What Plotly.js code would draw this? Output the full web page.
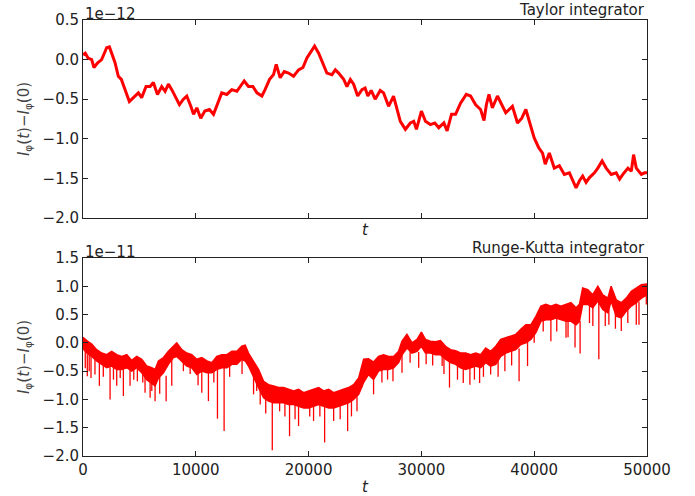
<!DOCTYPE html>
<html><head><meta charset="utf-8">
<script src="https://cdn.plot.ly/plotly-3.0.1.min.js"></script>
<style>html,body{margin:0;padding:0;background:#fff}#c{width:695px;height:496px}</style>
</head><body><div id="c"></div>
<script>
// Taylor integrator (units of 1e-12)
var topT = [0,200,450,770,970,1300,1650,2100,2340,2600,2840,3130,3400,3730,4110,4470,4910,5200,5590,5950,6240,6600,6980,7280,7570,7870,8170,8550,8900,9200,9560,9800,10090,10440,10800,11210,11570,11860,12300,12750,13190,13640,13930,14290,14670,15060,15420,15860,16140,16540,16890,17130,17480,17840,18220,18670,19110,19500,19850,20210,20530,20890,21180,21620,22070,22370,22660,23110,23400,23700,23990,24350,24730,25010,25250,25550,25900,26350,26650,27090,27530,27830,28130,28580,29020,29320,29560,30000,30360,30800,31190,31540,31990,32280,32670,33030,33470,33980,34360,34810,35250,35550,35760,35990,36290,36740,37120,37480,37780,38070,38520,38900,39260,39550,40000,40390,40740,40980,41340,41780,42230,42670,43120,43710,44010,44300,44600,44900,45340,45640,46020,46380,46830,47270,47570,47860,48310,48610,48810,49050,49500,49790,50000];
var topV = [0.06,0.08,0.02,0.00,-0.10,-0.04,0.00,0.15,0.16,0.04,-0.04,-0.21,-0.25,-0.38,-0.53,-0.48,-0.42,-0.48,-0.34,-0.34,-0.29,-0.44,-0.34,-0.40,-0.31,-0.38,-0.46,-0.57,-0.50,-0.46,-0.59,-0.69,-0.61,-0.74,-0.65,-0.63,-0.69,-0.59,-0.42,-0.44,-0.38,-0.40,-0.34,-0.27,-0.34,-0.34,-0.42,-0.46,-0.38,-0.25,-0.19,-0.06,-0.23,-0.15,-0.17,-0.21,-0.13,-0.10,0.02,0.10,0.17,0.08,-0.02,-0.17,-0.19,-0.13,-0.17,-0.25,-0.34,-0.25,-0.31,-0.46,-0.38,-0.36,-0.46,-0.39,-0.50,-0.39,-0.42,-0.59,-0.46,-0.61,-0.78,-0.88,-0.80,-0.78,-0.88,-0.65,-0.78,-0.82,-0.80,-0.86,-0.80,-0.90,-0.69,-0.69,-0.55,-0.44,-0.46,-0.57,-0.63,-0.77,-0.57,-0.44,-0.61,-0.46,-0.57,-0.67,-0.63,-0.59,-0.80,-0.74,-0.63,-0.78,-0.99,-1.11,-1.18,-1.32,-1.18,-1.37,-1.34,-1.45,-1.43,-1.62,-1.53,-1.47,-1.55,-1.49,-1.43,-1.37,-1.28,-1.37,-1.45,-1.43,-1.51,-1.45,-1.37,-1.41,-1.20,-1.37,-1.45,-1.43,-1.43];

// Runge-Kutta integrator (units of 1e-11): band of the dense noisy trace
var bandT = [0,330,770,1210,1660,2100,2540,2990,3430,3880,4320,4760,5210,5650,6090,6390,6690,7130,7570,8020,8310,8760,9200,9640,10090,10530,10980,11420,11860,12310,12750,13200,13640,14080,14380,14670,15120,15560,16010,16450,16890,17340,17780,18220,18670,19110,19560,20000,20440,20890,21330,21780,22220,22660,23110,23550,23990,24440,24880,25310,25760,26200,26650,27090,27540,27980,28280,28720,29170,29610,30000,30360,30800,31250,31690,32140,32580,33030,33470,33920,34360,34810,35250,35700,36140,36590,37030,37480,37920,38370,38810,39260,39700,40150,40590,41040,41480,41930,42370,42820,43260,43710,44010,44300,44750,45190,45640,46080,46530,46820,47270,47720,48160,48610,49050,49500,50000];
var bandHi = [0.10,0.04,-0.02,-0.12,-0.18,-0.21,-0.15,-0.21,-0.24,-0.21,-0.31,-0.24,-0.29,-0.41,-0.44,-0.47,-0.32,-0.26,-0.15,-0.06,0.00,-0.12,-0.18,-0.21,-0.29,-0.26,-0.32,-0.35,-0.24,-0.21,-0.21,-0.15,-0.15,-0.06,-0.04,-0.18,-0.32,-0.47,-0.68,-0.74,-0.76,-0.79,-0.79,-0.82,-0.85,-0.82,-0.88,-0.85,-0.82,-0.79,-0.85,-0.82,-0.88,-0.85,-0.82,-0.79,-0.74,-0.62,-0.29,-0.28,-0.34,-0.24,-0.21,-0.24,-0.24,-0.15,0.03,0.15,0.00,0.06,0.19,0.06,0.03,0.02,0.04,-0.06,-0.12,-0.14,-0.18,-0.18,-0.21,-0.18,-0.21,-0.09,-0.15,-0.06,0.06,0.09,0.12,0.15,0.24,0.32,0.32,0.47,0.65,0.68,0.65,0.68,0.65,0.68,0.71,0.62,0.68,0.97,0.94,0.85,1.00,0.85,0.79,1.00,0.76,0.71,0.79,0.91,0.97,1.03,1.04];
var bandLo = [-0.10,-0.18,-0.24,-0.32,-0.38,-0.44,-0.41,-0.47,-0.47,-0.44,-0.50,-0.44,-0.53,-0.65,-0.71,-0.76,-0.62,-0.53,-0.38,-0.26,-0.24,-0.32,-0.41,-0.44,-0.56,-0.50,-0.53,-0.53,-0.47,-0.44,-0.44,-0.38,-0.38,-0.29,-0.32,-0.41,-0.59,-0.79,-0.97,-1.03,-1.06,-1.06,-1.06,-1.09,-1.09,-1.12,-1.15,-1.15,-1.12,-1.09,-1.12,-1.15,-1.15,-1.12,-1.09,-1.06,-1.00,-0.91,-0.70,-0.56,-0.65,-0.50,-0.47,-0.47,-0.44,-0.35,-0.21,-0.09,-0.18,-0.15,-0.06,-0.18,-0.18,-0.21,-0.21,-0.29,-0.35,-0.38,-0.44,-0.47,-0.44,-0.41,-0.44,-0.35,-0.41,-0.38,-0.24,-0.18,-0.15,-0.12,-0.03,0.00,0.06,0.18,0.38,0.41,0.41,0.44,0.41,0.38,0.38,0.32,0.38,0.68,0.68,0.62,0.74,0.59,0.53,0.74,0.47,0.44,0.56,0.65,0.71,0.79,0.85];
// large downward excursions (spikes): time, lowest value, value where spike leaves the band
var spikeT  = [380,710,1060,1450,2400,2990,3580,4170,4820,5500,5950,6390,7370,7870,10530,11120,11920,12510,15120,15710,16780,17430,18310,19110,20440,21420,22220,23460,24290,24720,25760,27480,28280,29760,30420,31840,32490,33710,34300,35160,36140,38660,39410,41480,42820,43620,44070,44900,45730,46620,47720,49050,49290,49940];
var spikeLo = [-0.59,-0.62,-0.56,-0.76,-1.00,-0.76,-0.94,-0.76,-0.68,-0.88,-0.97,-1.03,-1.03,-0.76,-0.88,-1.03,-1.34,-1.56,-0.91,-1.09,-1.90,-1.21,-1.65,-1.47,-1.38,-1.76,-1.38,-1.56,-1.21,-0.79,-0.91,-0.68,-0.53,-0.44,-0.38,-0.41,-0.79,-0.71,-0.74,-0.71,-0.56,-0.68,-0.41,0.03,0.09,-0.08,-0.19,0.35,-0.29,0.32,0.21,0.32,0.32,0.68];
var spikeHi = [-0.20,-0.22,-0.28,-0.35,-0.43,-0.47,-0.47,-0.45,-0.44,-0.60,-0.70,-0.75,-0.58,-0.30,-0.50,-0.52,-0.47,-0.44,-0.59,-0.85,-1.05,-1.06,-1.09,-1.12,-1.12,-1.12,-1.15,-1.06,-0.95,-0.75,-0.65,-0.44,-0.21,-0.16,-0.18,-0.21,-0.34,-0.46,-0.44,-0.44,-0.41,-0.10,0.02,0.41,0.38,0.33,0.38,0.68,0.72,0.60,0.44,0.71,0.73,0.85];
// smaller downward excursions
var minorT  = [200,550,1800,2700,3300,4500,5300,6100,6800,8900,9500,10200,11600,13000,14100,15400,16200,17900,18800,20100,21000,22800,23800,26500,27000,29000,31000,32000,33200,34700,35500,36800,37400,38000,40000,40800,42000,43000,45200,46300,47200,48300];
var minorLo = [-0.45,-0.50,-0.60,-0.65,-0.62,-0.65,-0.70,-0.85,-0.90,-0.50,-0.55,-0.75,-0.70,-0.60,-0.55,-0.85,-1.25,-1.30,-1.35,-1.30,-1.30,-1.35,-1.30,-0.70,-0.65,-0.35,-0.40,-0.55,-0.65,-0.65,-0.60,-0.60,-0.50,-0.40,0.00,0.20,0.20,0.10,0.30,0.30,0.25,0.35];
var minorHi = [-0.05,-0.15,-0.30,-0.35,-0.40,-0.40,-0.45,-0.60,-0.55,-0.25,-0.35,-0.45,-0.45,-0.30,-0.20,-0.60,-0.95,-1.00,-1.05,-1.05,-1.05,-1.05,-1.00,-0.45,-0.40,-0.10,-0.15,-0.25,-0.35,-0.35,-0.35,-0.30,-0.15,-0.10,0.25,0.45,0.50,0.45,0.65,0.60,0.55,0.65];

var xTicks = [0,10000,20000,30000,40000,50000];
var xTickText = ['0','10000','20000','30000','40000','50000'];
var topYTicks = [-2.0,-1.5,-1.0,-0.5,0.0,0.5];
var botYTicks = [-2.0,-1.5,-1.0,-0.5,0.0,0.5,1.0,1.5];

var polyX = bandT.concat(bandT.slice().reverse());
var polyY = bandHi.concat(bandLo.slice().reverse());
function segs(T, A, B) {
  var x = [], y = [];
  for (var i = 0; i < T.length; i++) { x.push(T[i], T[i], null); y.push(A[i], B[i], null); }
  return {x: x, y: y};
}
var big = segs(spikeT, spikeHi, spikeLo);
var small = segs(minorT, minorHi, minorLo);

var red = '#ff0000';
var data = [
  {x: topT, y: topV, type: 'scatter', mode: 'lines', line: {color: red, width: 3}, xaxis: 'x', yaxis: 'y', hoverinfo: 'skip'},
  {x: polyX, y: polyY, type: 'scatter', mode: 'lines', fill: 'toself', fillcolor: red, line: {color: red, width: 1.5}, xaxis: 'x2', yaxis: 'y2', hoverinfo: 'skip'},
  {x: big.x, y: big.y, type: 'scatter', mode: 'lines', line: {color: red, width: 1.3}, xaxis: 'x2', yaxis: 'y2', hoverinfo: 'skip'},
  {x: small.x, y: small.y, type: 'scatter', mode: 'lines', line: {color: red, width: 1.3}, xaxis: 'x2', yaxis: 'y2', hoverinfo: 'skip'}
];

var FAM = 'DejaVu Sans, sans-serif';
var font = {family: FAM, size: 15, color: '#222'};
var ytitle = '<i>I</i><sub>φ</sub>(<i>t</i>)−<i>I</i><sub>φ</sub>(0)';
function ax(extra) {
  var a = {showline: true, linecolor: '#222', linewidth: 1, mirror: 'allticks', ticks: 'inside', ticklen: 5, tickcolor: '#222', showgrid: false, zeroline: false, tickfont: font};
  for (var k in extra) a[k] = extra[k];
  return a;
}
var layout = {
  width: 695, height: 496,
  margin: {l: 83, r: 48, t: 20, b: 40},
  paper_bgcolor: '#fff', plot_bgcolor: '#fff',
  showlegend: false, font: font,
  xaxis: ax({domain: [0, 1], range: [0, 50000], tickvals: xTicks, ticktext: xTickText, showticklabels: false, anchor: 'y',
    title: {text: '<i>t</i>', font: {family: FAM, size: 15, color: '#222'}, standoff: 6}}),
  yaxis: ax({domain: [0.5459, 1], range: [-2.0, 0.5], tickvals: topYTicks, tickformat: '.1f', anchor: 'x',
    title: {text: ytitle, font: {family: FAM, size: 15, color: '#444'}, standoff: 9}}),
  xaxis2: ax({domain: [0, 1], range: [0, 50000], tickvals: xTicks, ticktext: xTickText, anchor: 'y2',
    title: {text: '<i>t</i>', font: {family: FAM, size: 15, color: '#222'}, standoff: 4}}),
  yaxis2: ax({domain: [0, 0.4541], range: [-2.0, 1.5], tickvals: botYTicks, tickformat: '.1f', anchor: 'x2',
    title: {text: ytitle, font: {family: FAM, size: 15, color: '#444'}, standoff: 9}}),
  annotations: [
    {text: '1e−12', xref: 'paper', yref: 'paper', x: 0, y: 1, xanchor: 'left', yanchor: 'bottom', showarrow: false, font: font, yshift: -5},
    {text: 'Taylor integrator', xref: 'paper', yref: 'paper', x: 1, y: 1, xanchor: 'right', yanchor: 'bottom', showarrow: false, font: font, yshift: -1},
    {text: '1e−11', xref: 'paper', yref: 'paper', x: 0, y: 0.4541, xanchor: 'left', yanchor: 'bottom', showarrow: false, font: font, yshift: -5},
    {text: 'Runge-Kutta integrator', xref: 'paper', yref: 'paper', x: 1, y: 0.4541, xanchor: 'right', yanchor: 'bottom', showarrow: false, font: font, yshift: -1}
  ]
};
Plotly.newPlot('c', data, layout, {staticPlot: true, displayModeBar: false});
</script></body></html>
